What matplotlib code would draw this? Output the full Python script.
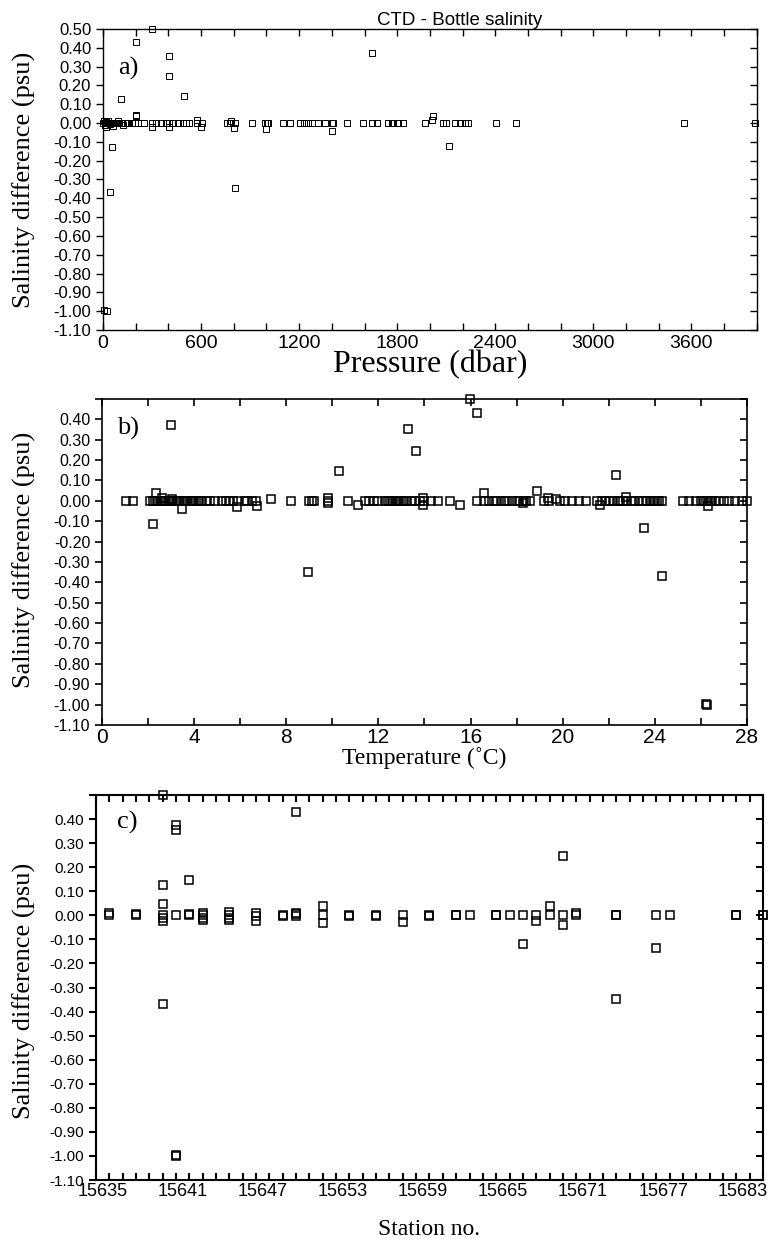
import matplotlib
matplotlib.use('Agg')
import matplotlib.pyplot as plt
import matplotlib.transforms as mtransforms
from matplotlib.ticker import FixedLocator, FuncFormatter

# ---- panel a: salinity difference vs pressure
# scattered points (pressure, difference)
pres_a = [300, 200, 404, 404, 110, 496, 1645, 55, 43, 808, 200, 200, 575, 600,
          16, 300, 404, 800, 1000, 1400, 780, 2018, 2012, 2116, 5, 25,
          5, 15, 30, 60, 90, 120, 20, 45]
diff_a = [0.50, 0.43, 0.355, 0.25, 0.13, 0.145, 0.37, -0.13, -0.365, -0.345,
          0.045, 0.035, 0.015, -0.02, -0.02, -0.02, -0.02, -0.025, -0.03,
          -0.04, 0.01, 0.04, 0.015, -0.12, -0.995, -1.0,
          0.01, -0.01, 0.012, -0.015, 0.01, -0.008, 0.005, -0.005]
# points sitting on the zero line
pres_a0 = [0, 10, 12, 20, 25, 33, 40, 45, 53, 65, 73, 80, 85, 94, 100, 114,
           135, 145, 155, 175, 196, 216, 251, 298, 324, 355, 383, 404, 430,
           461, 487, 508, 528, 577, 603, 756, 777, 807, 909, 991, 1001, 1011,
           1103, 1144, 1205, 1229, 1256, 1276, 1317, 1358, 1399, 1409, 1490,
           1592, 1643, 1674, 1745, 1766, 1776, 1796, 1806, 1837, 1969, 2081,
           2101, 2153, 2183, 2214, 2235, 2402, 2530, 3554, 3990]

# ---- panel b: salinity difference vs temperature
temp_b = [2.98, 2.21, 2.34, 3.49, 5.87, 6.71, 7.32, 10.30, 8.95, 9.82, 11.1,
          15.97, 16.26, 13.29, 13.63, 22.3, 23.54, 24.29, 18.87, 16.59, 15.54,
          13.95, 13.95, 19.37, 19.73, 21.6, 22.74, 26.3, 18.29, 26.2, 26.25,
          2.6, 3.05, 9.8]
diff_b = [0.372, -0.115, 0.038, -0.04, -0.028, -0.025, 0.008, 0.145, -0.35,
          0.015, -0.02, 0.502, 0.43, 0.354, 0.247, 0.128, -0.132, -0.367,
          0.049, 0.038, -0.02, -0.02, 0.013, 0.013, 0.01, -0.02, 0.02, -0.025,
          -0.012, -0.998, -1.0, 0.012, 0.01, -0.01]
temp_b0 = [1.04, 1.33, 2.1, 2.2, 2.3, 2.4, 2.5, 2.6, 2.7, 2.8, 2.9, 3.0, 3.1,
           3.2, 3.3, 3.4, 3.5, 3.6, 3.7, 3.8, 3.9, 4.0, 4.1, 4.2, 4.3, 4.5,
           4.7, 4.9, 5.2, 5.4, 5.5, 5.7, 5.9, 6.2, 6.3, 6.5, 6.7, 8.2, 9.0,
           9.1, 9.2, 9.8, 10.7, 11.4, 11.6, 11.8, 12.0, 12.3, 12.4, 12.5, 12.6,
           12.7, 12.8, 12.9, 13.0, 13.1, 13.2, 13.4, 13.6, 13.8, 14.0, 14.3,
           14.6, 15.1, 16.3, 16.6, 16.8, 17.0, 17.1, 17.3, 17.5, 17.6, 17.8,
           18.0, 18.1, 18.3, 18.4, 18.6, 19.2, 19.4, 19.9, 20.1, 20.4, 20.7,
           21.0, 21.5, 21.7, 21.9, 22.0, 22.2, 22.4, 22.5, 22.6, 22.8, 23.0,
           23.1, 23.3, 23.5, 23.6, 23.8, 23.9, 24.0, 24.1, 24.2, 24.3, 25.2,
           25.5, 25.8, 26.0, 26.1, 26.2, 26.3, 26.4, 26.5, 26.6, 26.8, 27.0,
           27.2, 27.5, 27.8, 28.0]

# ---- panel c: salinity difference vs station
stn_c = [15635, 15635, 15637, 15637,
         15639, 15639, 15639, 15639, 15639, 15639, 15639,
         15640, 15640, 15640, 15640, 15640,
         15641, 15641, 15641,
         15642, 15642, 15642, 15642,
         15644, 15644, 15644, 15644,
         15646, 15646, 15646,
         15648, 15648,
         15649, 15649, 15649, 15649,
         15651, 15651, 15651,
         15653, 15653, 15655, 15655, 15657, 15657, 15659, 15659,
         15661, 15661, 15662, 15664, 15664, 15665,
         15666, 15666, 15667, 15667, 15668, 15668,
         15669, 15669, 15669, 15670, 15670,
         15673, 15673, 15673, 15676, 15676, 15677,
         15682, 15682, 15684, 15684]
diff_c = [0.01, 0.0, 0.005, 0.0,
          0.50, 0.128, 0.046, 0.0, -0.011, -0.024, -0.367,
          0.374, 0.353, 0.0, -0.995, -1.0,
          0.145, 0.007, 0.0,
          0.01, 0.0, -0.01, -0.02,
          0.012, 0.0, -0.01, -0.02,
          0.008, -0.003, -0.023,
          0.002, -0.002,
          0.43, 0.01, 0.004, -0.004,
          0.037, 0.0, -0.03,
          0.0, -0.002, 0.0, -0.002, 0.0, -0.028, 0.002, -0.002,
          0.0, 0.002, 0.0, 0.002, 0.0, 0.0,
          0.0, -0.118, 0.0, -0.024, 0.037, 0.0,
          0.246, 0.0, -0.042, 0.01, 0.0,
          0.002, 0.0, -0.346, 0.0, -0.135, 0.0,
          0.002, 0.0, 0.003, 0.0]

yticks = [-1.1 + 0.1 * i for i in range(17)]
ylabels_txt = ['%.2f' % v for v in yticks]
ylabels_txt[-1] = ''   # 0.50 only labelled in panel a

serif = ['Liberation Serif', 'DejaVu Serif']
sans = ['Liberation Sans', 'DejaVu Sans']

fig = plt.figure(figsize=(7.69, 12.39), dpi=100)

ax1 = fig.add_axes([0.134, 0.7337, 0.850, 0.2429])
ax2 = fig.add_axes([0.1326, 0.4149, 0.8388, 0.2631])
ax3 = fig.add_axes([0.1248, 0.0476, 0.8674, 0.3107])


def style_axes(ax, lw, xpad=3.5):
    for s in ax.spines.values():
        s.set_linewidth(lw)
    ax.set_ylim(-1.1, 0.5)
    ax.yaxis.set_major_locator(FixedLocator(yticks))
    ax.tick_params(axis='y', which='both', left=True, right=True,
                   length=5, width=lw, direction='out')
    ax.tick_params(axis='x', which='both', direction='in', top=True,
                   bottom=True, length=5, width=lw, pad=xpad)


def right_ticks_in(ax):
    # right side ticks point inward, left side outward
    for t in ax.yaxis.get_major_ticks():
        t.tick2line.set_marker(matplotlib.lines.TICKLEFT)


def scatter(ax, x, y, ms, mew):
    ax.plot(x, y, ls='none', marker='s', ms=ms, mfc='none',
            mec='black', mew=mew, clip_on=False)


ylab = 'Salinity difference (psu)'

# panel a
scatter(ax1, pres_a0, [0.0] * len(pres_a0), 5, 0.7)
scatter(ax1, pres_a, diff_a, 5, 0.7)
style_axes(ax1, 1.0)
ax1.set_xlim(0, 4000)
ax1.xaxis.set_major_locator(FixedLocator(range(0, 4001, 200)))
ax1.xaxis.set_major_formatter(FuncFormatter(
    lambda v, p: '%d' % v if int(round(v)) % 600 == 0 and v < 4000 else ''))
ax1.set_yticklabels(['%.2f' % v for v in yticks], family=sans, fontsize=12)
for lab in ax1.get_xticklabels():
    lab.set_family(sans)
    lab.set_fontsize(14)
right_ticks_in(ax1)
ax1.set_xlabel('Pressure (dbar)', family=serif, fontsize=23, labelpad=-1)
ax1.set_title('CTD - Bottle salinity', family=sans, fontsize=13.5, pad=3,
              x=0.545)
ax1.text(0.023, 0.87, 'a)', transform=ax1.transAxes, family=serif,
         fontsize=19, va='center')
fig.text(0.032, 0.855, ylab, rotation=90, family=serif, fontsize=19,
         ha='center', va='center')

# panel b
scatter(ax2, temp_b0, [0.0] * len(temp_b0), 5.5, 1.1)
scatter(ax2, temp_b, diff_b, 5.5, 1.1)
style_axes(ax2, 1.2, xpad=2)
ax2.set_xlim(0, 28)
ax2.xaxis.set_major_locator(FixedLocator(range(0, 29, 2)))
ax2.xaxis.set_major_formatter(FuncFormatter(
    lambda v, p: '%d' % v if int(round(v)) % 4 == 0 else ''))
ax2.set_yticklabels(ylabels_txt, family=sans, fontsize=11.5)
for lab in ax2.get_xticklabels():
    lab.set_family(sans)
    lab.set_fontsize(15)
right_ticks_in(ax2)
ax2.set_xlabel('Temperature (˚C)', family=serif, fontsize=17, labelpad=0)
ax2.text(0.023, 0.911, 'b)', transform=ax2.transAxes, family=serif,
         fontsize=19, va='center')
fig.text(0.032, 0.548, ylab, rotation=90, family=serif, fontsize=19,
         ha='center', va='center')

# panel c
scatter(ax3, stn_c, diff_c, 6, 1.1)
style_axes(ax3, 1.5, xpad=2)
ax3.set_xlim(15634, 15684)
ax3.xaxis.set_major_locator(FixedLocator(range(15634, 15685)))
ax3.xaxis.set_major_formatter(FuncFormatter(
    lambda v, p: '%d' % v if (int(round(v)) - 15635) % 6 == 0 else ''))
ax3.set_yticklabels(ylabels_txt, family=sans, fontsize=11)
right_ticks_in(ax3)
# station labels sit a little left of their ticks
shift = mtransforms.ScaledTranslation(-6.5 / 100, 0, fig.dpi_scale_trans)
for lab in ax3.get_xticklabels():
    lab.set_family(sans)
    lab.set_fontsize(13)
    lab.set_transform(lab.get_transform() + shift)
ax3.set_xlabel('Station no.', family=serif, fontsize=17, labelpad=14)
ax3.text(0.031, 0.93, 'c)', transform=ax3.transAxes, family=serif,
         fontsize=19, va='center')
fig.text(0.032, 0.2, ylab, rotation=90, family=serif, fontsize=19,
         ha='center', va='center')

fig.savefig('out.png', dpi=100)
